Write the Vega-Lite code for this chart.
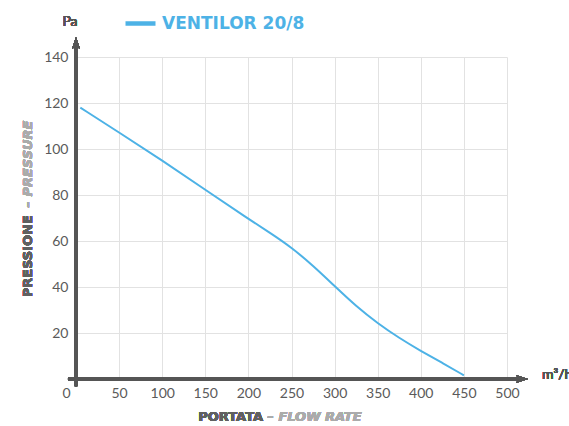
{
  "$schema": "https://vega.github.io/schema/vega-lite/v6.json",
  "width": 431,
  "height": 322,
  "autosize": {"type": "none"},
  "padding": {"left": 76, "top": 57, "right": 62, "bottom": 47},
  "background": "white",
  "config": {
    "view": {"stroke": null},
    "axis": {"labelFont": "Lato", "labelFontSize": 14, "labelColor": "#5a5a5a", "gridColor": "#e2e2e2", "gridWidth": 1, "domain": false, "ticks": false, "labelFlush": false}
  },
  "data": {"values": [
    {"flow": 5, "pressure": 118, "series": "VENTILOR 20/8"},
    {"flow": 50, "pressure": 107.2, "series": "VENTILOR 20/8"},
    {"flow": 100, "pressure": 95, "series": "VENTILOR 20/8"},
    {"flow": 150, "pressure": 82.3, "series": "VENTILOR 20/8"},
    {"flow": 200, "pressure": 69.6, "series": "VENTILOR 20/8"},
    {"flow": 225, "pressure": 63.6, "series": "VENTILOR 20/8"},
    {"flow": 250, "pressure": 57.2, "series": "VENTILOR 20/8"},
    {"flow": 275, "pressure": 49.3, "series": "VENTILOR 20/8"},
    {"flow": 300, "pressure": 40.4, "series": "VENTILOR 20/8"},
    {"flow": 325, "pressure": 31.6, "series": "VENTILOR 20/8"},
    {"flow": 350, "pressure": 24.2, "series": "VENTILOR 20/8"},
    {"flow": 375, "pressure": 17.8, "series": "VENTILOR 20/8"},
    {"flow": 400, "pressure": 12.2, "series": "VENTILOR 20/8"},
    {"flow": 425, "pressure": 7, "series": "VENTILOR 20/8"},
    {"flow": 450, "pressure": 1.6, "series": "VENTILOR 20/8"}
  ]},
  "layer": [
    {
      "mark": {"type": "line", "interpolate": "basis", "strokeWidth": 2},
      "encoding": {
        "x": {"field": "flow", "type": "quantitative", "scale": {"domain": [0, 500], "nice": false, "zero": false},
          "axis": {"title": null, "values": [0, 50, 100, 150, 200, 250, 300, 350, 400, 450, 500], "labelPadding": 7,
            "labelOffset": {"condition": {"test": "datum.value === 0", "value": -10}, "value": 0}}},
        "y": {"field": "pressure", "type": "quantitative", "scale": {"domain": [0, 140], "nice": false, "zero": false},
          "axis": {"title": null, "values": [20, 40, 60, 80, 100, 120, 140], "labelPadding": 8}},
        "color": {"field": "series", "type": "nominal", "scale": {"range": ["#4db2e6"]},
          "legend": {"title": null, "orient": "none", "legendX": 47, "legendY": -51, "padding": 0,
            "symbolType": "stroke", "symbolStrokeWidth": 4.5, "symbolSize": 900,
            "labelFont": "DejaVu Sans", "labelFontWeight": "bold", "labelFontSize": 17, "labelColor": "#4db2e6", "labelOffset": 4}}
      }
    },
    {
      "mark": {"type": "rule", "color": "#555555", "strokeWidth": 2.5},
      "encoding": {"x": {"datum": -9.3}, "x2": {"datum": 516}, "y": {"datum": 0}}
    },
    {
      "mark": {"type": "rule", "color": "#555555", "strokeWidth": 2.5},
      "encoding": {"x": {"datum": 0}, "y": {"datum": -3.2}, "y2": {"datum": 145.5}}
    },
    {
      "mark": {"type": "point", "filled": true, "opacity": 1, "color": "#555555", "size": 180, "shape": "M1,0L-0.8,0.6L-0.4,0L-0.8,-0.6Z"},
      "encoding": {"x": {"datum": 516.6}, "y": {"datum": 0}}
    },
    {
      "mark": {"type": "point", "filled": true, "opacity": 1, "color": "#555555", "size": 180, "shape": "M0,-1L0.6,0.8L0,0.4L-0.6,0.8Z"},
      "encoding": {"x": {"datum": 0}, "y": {"datum": 145.8}}
    },
    {
      "mark": {"type": "text", "text": "Pa", "font": "Lato", "fontSize": 14, "fill": "#555555", "align": "center", "baseline": "middle"},
      "encoding": {"x": {"datum": -7}, "y": {"datum": 155.3}}
    },
    {
      "mark": {"type": "text", "text": "m³/h", "font": "Lato", "fontSize": 14, "fill": "#555555", "align": "left", "baseline": "middle"},
      "encoding": {"x": {"datum": 540.6}, "y": {"datum": 1.7}}
    },
    {
      "mark": {"type": "text", "text": "PORTATA", "font": "DejaVu Sans", "fontWeight": "bold", "fontSize": 13, "fill": "#606060", "align": "right", "baseline": "middle"},
      "encoding": {"x": {"datum": 217}, "y": {"datum": -16.5}}
    },
    {
      "mark": {"type": "text", "text": "– FLOW RATE", "font": "DejaVu Sans", "fontWeight": "bold", "fontStyle": "italic", "fontSize": 13, "fill": "#ababab", "align": "left", "baseline": "middle"},
      "encoding": {"x": {"datum": 222}, "y": {"datum": -16.5}}
    },
    {
      "mark": {"type": "text", "text": "PRESSIONE", "font": "DejaVu Sans", "fontWeight": "bold", "fontSize": 13, "fill": "#606060", "align": "left", "baseline": "middle", "angle": 270},
      "encoding": {"x": {"datum": -55.7}, "y": {"datum": 35.5}}
    },
    {
      "mark": {"type": "text", "text": "– PRESSURE", "font": "DejaVu Sans", "fontWeight": "bold", "fontStyle": "italic", "fontSize": 13, "fill": "#ababab", "align": "left", "baseline": "middle", "angle": 270},
      "encoding": {"x": {"datum": -55.7}, "y": {"datum": 74.5}}
    }
  ]
}
